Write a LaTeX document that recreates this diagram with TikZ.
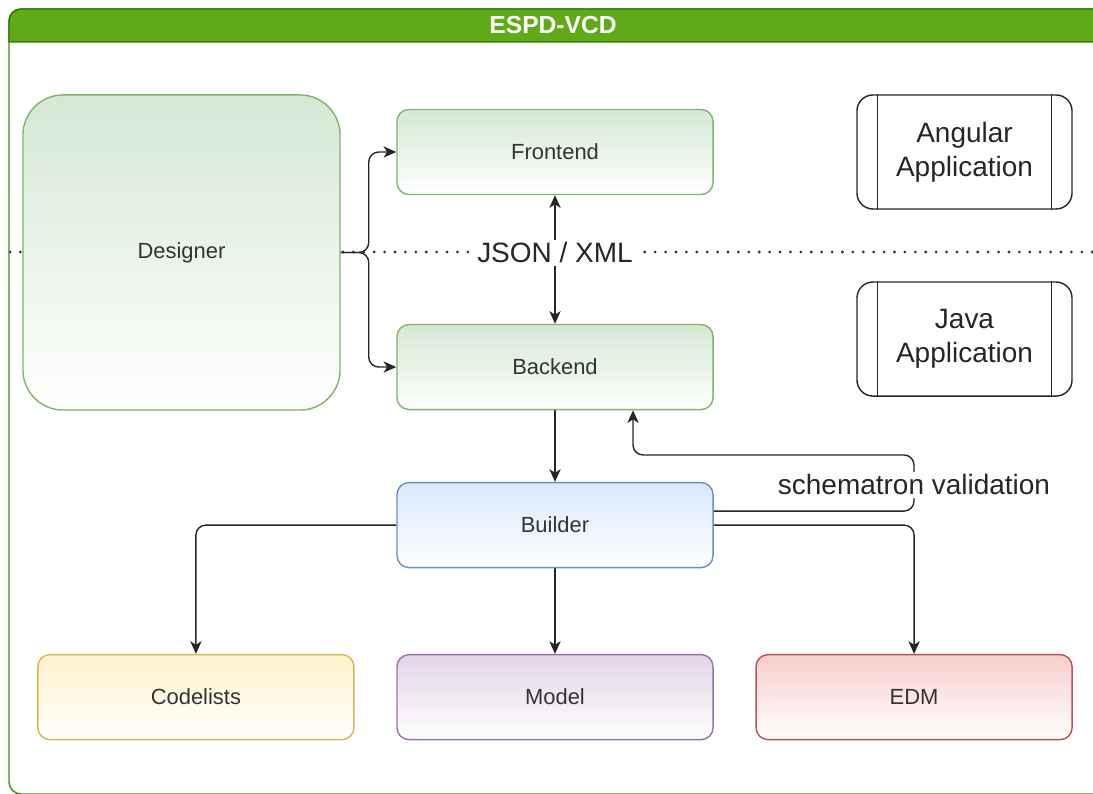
\documentclass[tikz,border=0pt]{standalone}
\usepackage{fontspec}
\setmainfont{Liberation Sans}
\usetikzlibrary{arrows.meta,positioning,backgrounds}

\definecolor{laneline}{HTML}{2D7600}
\definecolor{lanefill}{HTML}{60A917}
\definecolor{textgray}{HTML}{333333}
\definecolor{greenfill}{HTML}{D5E8D4}
\definecolor{greenline}{HTML}{82B366}
\definecolor{bluefill}{HTML}{DAE8FC}
\definecolor{blueline}{HTML}{6C8EBF}
\definecolor{yellowfill}{HTML}{FFF2CC}
\definecolor{yellowline}{HTML}{D6B656}
\definecolor{purplefill}{HTML}{E1D5E7}
\definecolor{purpleline}{HTML}{9673A6}
\definecolor{redfill}{HTML}{F8CECC}
\definecolor{redline}{HTML}{B85450}

\tikzset{
  block/.style={draw, rounded corners=0.3cm, line width=1pt, minimum width=7.9cm,
    minimum height=2.125cm, text=textgray, font=\fontsize{15.6}{18}\selectfont},
  greenbox/.style={block, draw=greenline, top color=greenfill, bottom color=white},
  bluebox/.style={block, draw=blueline, top color=bluefill, bottom color=white},
  yellowbox/.style={block, draw=yellowline, top color=yellowfill, bottom color=white},
  purplebox/.style={block, draw=purpleline, top color=purplefill, bottom color=white},
  redbox/.style={block, draw=redline, top color=redfill, bottom color=white},
  procbox/.style={draw=black!85, line width=1pt, rounded corners=0.4cm, minimum width=5.375cm,
    minimum height=2.85cm, align=center, text=black!85, font=\fontsize{19.9}{24}\selectfont},
  flow/.style={-{Stealth[length=9pt,width=8pt,inset=2.5pt]}, line width=1pt, draw=black!85, rounded corners=0.25cm},
  twoway/.style={{Stealth[length=9pt,width=8pt,inset=2.5pt]}-{Stealth[length=9pt,width=8pt,inset=2.5pt]}},
  bigtext/.style={fill=white, inner sep=2pt, text=black!85, font=\fontsize{19.9}{24}\selectfont},
}

\begin{document}
\begin{tikzpicture}[x=0.025cm, y=0.025cm]
  \clip (0,0) rectangle (1093,794);

  % swimlane
  \draw[draw=lanefill!80!black, line width=1pt, rounded corners=0.3cm] (9,0) rectangle (1130,785);
  \draw[draw=laneline, fill=lanefill, line width=1pt]
    (9,752) [rounded corners=0.3cm] -- (9,785) -- (1130,785) [sharp corners] -- (1130,752) -- cycle;
  \node[text=white, font=\fontsize{17.5}{20}\selectfont\bfseries] (lane) at (553,768.5) {ESPD-VCD};

  \node (designer) [greenbox, rounded corners=1cm, minimum width=7.925cm, minimum height=7.875cm] at (181.5,541.5) {Designer};
  \node (frontend) [greenbox] at (555,642) {Frontend};
  \node (backend) [greenbox, below of=frontend, node distance=5.375cm] {Backend};
  \node (builder) [bluebox, below of=backend, node distance=3.95cm] {Builder};
  \node (model) [purplebox, below of=builder, node distance=4.3cm] {Model};
  \node (codelists) [yellowbox, left of=model, node distance=8.975cm] {Codelists};
  \node (edm) [redbox, right of=model, node distance=8.975cm] {EDM};

  \node (angular) [procbox] at (964.5,642) {Angular\\Application};
  \node (java) [procbox, below of=angular, node distance=4.675cm] {Java\\Application};
  \foreach \n in {angular,java} {
    \draw[line width=1pt, black!85] ([xshift=0.525cm]\n.north west) -- ([xshift=0.525cm]\n.south west);
    \draw[line width=1pt, black!85] ([xshift=-0.525cm]\n.north east) -- ([xshift=-0.525cm]\n.south east);
  }

  \node (json) [bigtext] at (555,541) {JSON / XML};
  \node (valid) [bigtext] at (914,309) {schematron validation};

  \begin{pgfonlayer}{background}
    \draw[black!80, line width=2.2pt, line cap=round, dash pattern=on 0pt off 7.4pt] (10,542) -- (1093,542);
    \draw[flow] (designer.east) -- ++(0.7cm,0) |- (frontend.west);
    \draw[flow] (designer.east) -- ++(0.7cm,0) |- (backend.west);
    \draw[flow, twoway] (frontend) -- (backend);
    \draw[flow] (backend) -- (builder);
    \draw[flow] (builder) -- (model);
    \draw[flow] (builder.west) -| (codelists.north);
    \draw[flow] (builder.east) -| (edm.north);
    \draw[flow] ([yshift=0.35cm]builder.east) -| ([yshift=0.75cm]valid.center) -| ([xshift=1.95cm]backend.south);
  \end{pgfonlayer}
\end{tikzpicture}
\end{document}
